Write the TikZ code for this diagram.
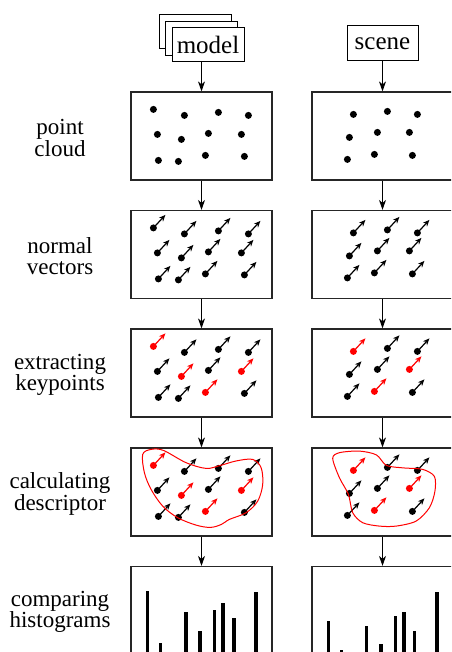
\documentclass[tikz,border=0pt]{standalone}
\usepackage{fontspec}
\setmainfont{Liberation Serif}
\newfontfamily\labelfont{Liberation Serif}
\usepackage{xcolor}
\usetikzlibrary{arrows.meta,positioning}

% point positions inside a panel (x/y from the top left corner, 1 = keypoint)
\def\modelpts{23/18/1,54/24/0,88/21/0,118/24/0,27/43/0,51/48/1,78/42/0,111/43/1,28/69/0,48/70/0,75/64/1,114/65/0}
\def\scenepts{42/23/1,76/20/0,106/23/0,38/46/0,66/41/0,98/41/1,36/68/0,63/63/1,101/64/0}

\begin{document}
\begin{tikzpicture}[
    x=1pt, y=-1pt,
    panel/.style={
        rectangle,
        draw=black!85,
        line width=1.2pt,
        minimum width=141pt,
        minimum height=88pt,
        inner sep=0pt
    },
    source/.style={
        rectangle,
        draw=black,
        fill=white,
        line width=1pt,
        minimum width=72pt,
        minimum height=34pt,
        inner sep=0pt,
        font=\labelfont\fontsize{25pt}{25pt}\selectfont
    },
    rowlabel/.style={align=center, font=\labelfont\fontsize{23pt}{21.5pt}\selectfont},
    arrow/.style={-{Stealth[length=10pt, width=7pt, inset=3pt]}, line width=1pt},
    normal/.style={-{Stealth[length=6.5pt, width=5.5pt, inset=2pt]}, line width=1.2pt},
    bar/.style={fill=black}
]

\useasboundingbox (0,0) rectangle (451,652);
\clip (0,0) rectangle (451,652);

% Inputs
\node[source] (model3) at (195,32) {};
\node[source] (model2) at (201,39) {};
\node[source] (model) at (208,45) {model};
\node[source, minimum width=71pt, minimum height=35pt] (scene) at (382.5,43.5) {scene};

% Panels
\foreach \i/\y in {1/136, 2/254.5, 3/373, 4/492, 5/610.5} {
    \node[panel] (m\i) at (201.5,\y) {};
    \node[panel] (s\i) at (382.5,\y) {};
}

% Row labels
\node[rowlabel] (l1) at (60,138) {point\\cloud};
\node[rowlabel] (l2) at (60,256) {normal\\vectors};
\node[rowlabel] (l3) at (60,375) {extracting\\keypoints};
\node[rowlabel] (l4) at (60,494) {calculating\\descriptor};
\node[rowlabel] (l5) at (60,612) {comparing\\histograms};

% Arrows
\draw[arrow] (model.south -| m1.north) -- (m1.north);
\draw[arrow] (scene) -- (s1);
\foreach \a/\b in {1/2, 2/3, 3/4, 4/5} {
    \draw[arrow] (m\a) -- (m\b);
    \draw[arrow] (s\a) -- (s\b);
}

% Point clouds
\begin{scope}[shift={(m1.north west)}]
    \foreach \x/\y/\k in \modelpts {\fill (\x,\y) circle (3.5);}
\end{scope}
\begin{scope}[shift={(s1.north west)}]
    \foreach \x/\y/\k in \scenepts {\fill (\x,\y) circle (3.5);}
\end{scope}

% Normal vectors
\begin{scope}[shift={(m2.north west)}]
    \foreach \x/\y/\k in \modelpts {
        \draw[normal] (\x,\y) -- ++(12,-13);
        \fill (\x,\y) circle (3.5);
    }
\end{scope}
\begin{scope}[shift={(s2.north west)}]
    \foreach \x/\y/\k in \scenepts {
        \draw[normal] (\x,\y) -- ++(12,-13);
        \fill (\x,\y) circle (3.5);
    }
\end{scope}

% Keypoints (rows 3 and 4)
\foreach \r in {3,4} {
    \begin{scope}[shift={(m\r.north west)}]
        \foreach \x/\y/\k in \modelpts {
            \ifnum\k=1 \def\col{red}\else\def\col{black}\fi
            \draw[normal, \col] (\x,\y) -- ++(12,-13);
            \fill[\col] (\x,\y) circle (3.5);
        }
    \end{scope}
    \begin{scope}[shift={(s\r.north west)}]
        \foreach \x/\y/\k in \scenepts {
            \ifnum\k=1 \def\col{red}\else\def\col{black}\fi
            \draw[normal, \col] (\x,\y) -- ++(12,-13);
            \fill[\col] (\x,\y) circle (3.5);
        }
    \end{scope}
}

% Descriptor regions
\draw[red, line width=1pt, shift={(m4.north west)}]
    plot[smooth cycle, tension=0.55] coordinates {
        (12.3,7) (20.7,2) (33,3) (55.7,15.3) (75.7,21) (90,18) (106,13.5)
        (122.3,12) (130.7,20.3) (132.3,37) (127.3,53.7) (115.7,65.3) (99,72)
        (91,77) (80,80) (65.7,77.7) (47.3,70.3) (32.3,58.7) (20.7,42) (14,25.3)};
\draw[red, line width=1pt, shift={(s4.north west)}]
    plot[smooth cycle, tension=0.5] coordinates {
        (21.3,11) (28,5.3) (48,3.7) (65,7.5) (75,18) (92,20.5) (111.3,22)
        (123,29) (123.5,44) (118,60.3) (104.7,73.7) (84.7,78.7) (68,78.7)
        (51.3,75.3) (41.3,65.3) (37,47) (28,30.3)};

% Histograms
\foreach \x/\t in {146/590.7, 159/643.3, 184.3/611.7, 198.3/631, 213/610.3, 221.3/602.7, 232.3/617.7, 254.3/592} {
    \fill[bar] (\x,\t) rectangle ++(3.4,70);
}
\foreach \x/\t in {326.6/621, 340/650, 365/625.7, 379.3/643.7, 394/615.7, 402.3/612.3, 413/631, 435.3/592.3} {
    \fill[bar] (\x,\t) rectangle ++(3.4,70);
}

\end{tikzpicture}
\end{document}
